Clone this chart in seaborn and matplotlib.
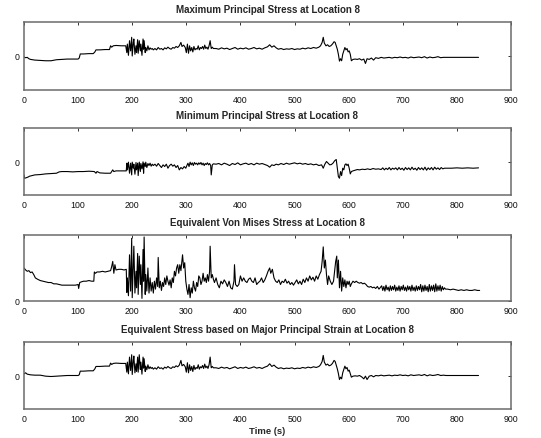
import numpy as np
import pandas as pd
import matplotlib
matplotlib.use("Agg")
import matplotlib.pyplot as plt
import seaborn as sns

# ---------------- data ----------------
titles = [
    "Maximum Principal Stress at Location 8",
    "Minimum Principal Stress at Location 8",
    "Equivalent Von Mises Stress at Location 8",
    "Equivalent Stress based on Major Principal Strain at Location 8",
]
x_ticks = [0, 100, 200, 300, 400, 500, 600, 700, 800, 900]
x_label = "Time (s)"

max_t = [
    0, 3, 6, 9, 12, 20, 30, 40, 50, 60,
    70, 80, 90, 100, 102, 104, 110, 120, 128, 131,
    133, 140, 150, 158, 160, 162, 165, 170, 180, 188,
    190, 191, 193, 195, 197, 199, 200, 202, 203, 205,
    207, 208, 210, 211, 213, 215, 216, 218, 220, 221,
    222, 224, 225, 227, 229, 231, 233, 235, 237, 239,
    242, 245, 248, 251, 254, 257, 260, 263, 266, 269,
    272, 275, 278, 281, 284, 287, 290, 292, 295, 298,
    300, 302, 304, 306, 308, 310, 312, 314, 316, 318,
    320, 322, 324, 326, 328, 330, 332, 334, 336, 338,
    340, 342, 344, 346, 348, 350, 355, 360, 365, 370,
    375, 380, 385, 390, 395, 400, 405, 410, 415, 420,
    425, 430, 435, 440, 445, 450, 454, 458, 462, 466,
    470, 475, 480, 485, 490, 495, 500, 505, 510, 515,
    520, 525, 530, 535, 540, 545, 548, 551, 553, 555,
    558, 561, 564, 567, 570, 573, 575, 577, 579, 581,
    583, 585, 587, 589, 591, 593, 595, 597, 599, 601,
    603, 605, 608, 612, 616, 620, 624, 628, 631, 634,
    638, 642, 646, 650, 655, 660, 665, 670, 675, 680,
    685, 690, 695, 700, 705, 710, 715, 720, 725, 730,
    735, 740, 745, 750, 755, 760, 765, 770, 775, 780,
    790, 800, 810, 820, 830, 840,
]
max_stress = [
    -0.03, -0.05, -0.04, -0.08, -0.10, -0.12, -0.13, -0.14, -0.14, -0.11,
    -0.10, -0.09, -0.09, -0.09, -0.06, 0.06, 0.06, 0.07, 0.07, 0.12,
    0.18, 0.18, 0.19, 0.19, 0.30, 0.26, 0.30, 0.31, 0.30, 0.30,
    0.10, 0.35, 0.02, 0.45, 0.15, 0.55, 0.00, 0.40, 0.50, 0.05,
    0.30, 0.10, 0.48, 0.08, 0.45, 0.15, 0.35, 0.02, 0.50, 0.20,
    0.45, 0.10, 0.25, 0.15, 0.30, 0.18, 0.24, 0.20, 0.22, 0.18,
    0.22, 0.18, 0.25, 0.20, 0.22, 0.18, 0.24, 0.21, 0.26, 0.22,
    0.20, 0.25, 0.23, 0.28, 0.25, 0.30, 0.40, 0.28, 0.32, 0.25,
    0.10, 0.35, 0.08, 0.30, 0.15, 0.25, 0.12, 0.28, 0.18, 0.22,
    0.20, 0.30, 0.18, 0.25, 0.22, 0.28, 0.20, 0.32, 0.22, 0.26,
    0.20, 0.30, 0.45, 0.22, 0.26, 0.22, 0.22, 0.20, 0.24, 0.21,
    0.23, 0.19, 0.22, 0.25, 0.20, 0.23, 0.21, 0.24, 0.20, 0.22,
    0.25, 0.21, 0.23, 0.20, 0.24, 0.27, 0.33, 0.26, 0.30, 0.24,
    0.20, 0.22, 0.19, 0.21, 0.20, 0.22, 0.19, 0.21, 0.20, 0.23,
    0.21, 0.24, 0.22, 0.25, 0.23, 0.26, 0.30, 0.40, 0.55, 0.38,
    0.30, 0.33, 0.28, 0.30, 0.35, 0.42, 0.40, 0.30, 0.20, 0.05,
    -0.15, -0.08, -0.14, 0.05, 0.15, 0.25, 0.18, 0.22, 0.12, 0.15,
    0.05, -0.14, -0.10, -0.09, -0.10, -0.08, -0.12, -0.09, -0.22, -0.08,
    -0.10, -0.06, -0.12, -0.05, -0.07, -0.04, -0.06, -0.05, -0.04, -0.06,
    -0.04, -0.05, -0.03, -0.05, -0.04, -0.06, -0.03, -0.05, -0.04, -0.03,
    -0.05, -0.02, -0.06, -0.03, -0.05, -0.04, -0.02, -0.05, -0.04, -0.04,
    -0.04, -0.04, -0.04, -0.04, -0.04, -0.04,
]

min_t = [
    0, 1, 3, 5, 8, 10, 15, 20, 30, 40,
    50, 60, 65, 70, 80, 90, 100, 110, 120, 130,
    133, 135, 140, 150, 160, 164, 166, 170, 180, 189,
    190, 191, 193, 195, 197, 199, 200, 202, 203, 205,
    207, 208, 210, 211, 213, 215, 216, 218, 220, 221,
    222, 224, 225, 227, 229, 231, 233, 235, 237, 239,
    242, 245, 248, 251, 254, 257, 260, 263, 266, 269,
    272, 275, 278, 281, 284, 287, 290, 293, 296, 299,
    301, 303, 305, 307, 309, 311, 313, 315, 317, 319,
    321, 323, 325, 327, 329, 331, 333, 335, 337, 339,
    341, 343, 345, 346, 348, 350, 355, 360, 365, 370,
    375, 380, 385, 390, 395, 400, 405, 410, 415, 420,
    425, 430, 435, 440, 445, 450, 454, 458, 462, 466,
    470, 475, 480, 485, 490, 495, 500, 505, 510, 515,
    520, 525, 530, 535, 540, 545, 550, 553, 556, 559,
    562, 565, 568, 571, 574, 577, 579, 581, 583, 585,
    587, 589, 591, 593, 595, 597, 599, 601, 603, 605,
    608, 612, 616, 620, 625, 630, 635, 640, 645, 650,
    655, 660, 663, 666, 669, 672, 675, 678, 681, 684,
    687, 690, 693, 696, 699, 702, 705, 708, 711, 714,
    717, 720, 723, 726, 729, 732, 735, 738, 741, 744,
    747, 750, 753, 756, 759, 762, 765, 768, 771, 774,
    777, 780, 790, 800, 810, 820, 830, 840,
]
min_stress = [
    -0.40, -0.50, -0.49, -0.48, -0.46, -0.44, -0.42, -0.40, -0.39, -0.37,
    -0.36, -0.35, -0.31, -0.30, -0.30, -0.31, -0.30, -0.30, -0.29, -0.30,
    -0.35, -0.30, -0.34, -0.35, -0.35, -0.25, -0.30, -0.28, -0.28, -0.28,
    -0.05, -0.25, -0.02, -0.35, -0.05, -0.40, -0.02, -0.20, -0.08, -0.38,
    -0.03, -0.25, -0.05, -0.42, -0.02, -0.30, -0.06, -0.22, -0.01, -0.35,
    -0.05, -0.15, -0.02, -0.18, -0.06, -0.12, -0.05, -0.14, -0.08, -0.12,
    -0.08, -0.14, -0.06, -0.12, -0.18, -0.10, -0.15, -0.08, -0.20, -0.12,
    -0.08, -0.14, -0.10, -0.18, -0.12, -0.25, -0.18, -0.22, -0.15, -0.20,
    -0.12, -0.05, -0.15, -0.02, -0.10, -0.04, -0.12, -0.03, -0.08, -0.05,
    -0.10, -0.04, -0.08, -0.03, -0.10, -0.05, -0.12, -0.06, -0.09, -0.04,
    -0.10, -0.06, -0.12, -0.40, -0.10, -0.07, -0.08, -0.06, -0.10, -0.05,
    -0.08, -0.12, -0.06, -0.09, -0.04, -0.10, -0.07, -0.05, -0.09, -0.06,
    -0.10, -0.05, -0.08, -0.06, -0.09, -0.12, -0.17, -0.10, -0.12, -0.08,
    -0.10, -0.06, -0.09, -0.05, -0.08, -0.06, -0.04, -0.07, -0.05, -0.08,
    -0.06, -0.09, -0.07, -0.10, -0.08, -0.12, -0.10, -0.20, -0.08, 0.00,
    -0.05, -0.10, -0.09, -0.05, 0.02, 0.06, -0.20, -0.45, -0.50, -0.30,
    -0.42, -0.20, -0.25, -0.10, -0.07, -0.12, -0.08, -0.20, -0.37, -0.30,
    -0.28, -0.26, -0.24, -0.25, -0.23, -0.24, -0.22, -0.24, -0.21, -0.23,
    -0.22, -0.24, -0.19, -0.25, -0.20, -0.24, -0.18, -0.25, -0.20, -0.23,
    -0.19, -0.25, -0.18, -0.24, -0.20, -0.26, -0.18, -0.24, -0.19, -0.25,
    -0.17, -0.24, -0.20, -0.26, -0.18, -0.24, -0.19, -0.25, -0.17, -0.26,
    -0.19, -0.24, -0.18, -0.25, -0.17, -0.23, -0.19, -0.24, -0.18, -0.22,
    -0.20, -0.20, -0.20, -0.19, -0.20, -0.19, -0.20, -0.19,
]

vm_t = [
    0, 3, 6, 9, 12, 15, 18, 21, 25, 30,
    35, 40, 45, 50, 55, 60, 65, 70, 75, 80,
    85, 90, 95, 100, 101, 103, 106, 110, 115, 120,
    125, 129, 130, 132, 135, 140, 145, 150, 155, 160,
    162, 164, 166, 168, 170, 175, 180, 185, 189, 190,
    191, 193, 195, 197, 199, 200, 202, 203, 205, 207,
    208, 210, 211, 213, 215, 216, 218, 220, 221, 222,
    224, 225, 227, 229, 231, 233, 235, 237, 239, 241,
    243, 245, 247, 248, 250, 252, 254, 256, 258, 260,
    262, 264, 266, 268, 270, 272, 274, 276, 278, 280,
    282, 284, 286, 288, 290, 292, 293, 295, 297, 299,
    301, 303, 305, 307, 309, 311, 313, 315, 317, 319,
    321, 323, 325, 327, 329, 331, 333, 335, 337, 339,
    341, 343, 344, 346, 348, 350, 352, 355, 358, 361,
    364, 367, 370, 373, 376, 379, 382, 385, 388, 389,
    391, 394, 397, 400, 403, 406, 409, 412, 415, 418,
    421, 424, 427, 430, 433, 436, 439, 442, 445, 448,
    451, 454, 456, 459, 462, 465, 468, 471, 474, 477,
    480, 483, 486, 489, 492, 495, 498, 501, 504, 507,
    510, 513, 516, 519, 522, 525, 528, 531, 534, 537,
    540, 543, 546, 549, 551, 553, 555, 557, 559, 561,
    563, 566, 569, 572, 574, 576, 578, 579, 581, 583,
    585, 587, 589, 591, 593, 595, 597, 599, 601, 603,
    605, 608, 611, 614, 617, 620, 623, 626, 629, 632,
    635, 638, 641, 644, 647, 650, 653, 656, 659, 661,
    663, 665, 667, 669, 671, 673, 675, 677, 679, 681,
    683, 685, 687, 689, 691, 693, 695, 697, 699, 701,
    703, 705, 707, 709, 711, 713, 715, 717, 719, 721,
    723, 725, 727, 729, 731, 733, 735, 737, 739, 741,
    743, 745, 747, 749, 751, 753, 755, 757, 759, 761,
    763, 765, 767, 769, 771, 773, 775, 777, 779, 783,
    788, 793, 798, 803, 808, 813, 818, 823, 828, 833,
    838, 842,
]
vm_stress = [
    0.50, 0.47, 0.45, 0.46, 0.43, 0.44, 0.40, 0.35, 0.33, 0.31,
    0.30, 0.29, 0.28, 0.28, 0.26, 0.26, 0.25, 0.24, 0.24, 0.24,
    0.24, 0.24, 0.24, 0.25, 0.19, 0.28, 0.29, 0.30, 0.30, 0.31,
    0.30, 0.30, 0.44, 0.42, 0.44, 0.44, 0.45, 0.44, 0.45, 0.46,
    0.52, 0.60, 0.42, 0.55, 0.47, 0.48, 0.48, 0.47, 0.48, 0.13,
    0.35, 0.08, 0.70, 0.15, 0.95, 0.05, 0.60, 0.83, 0.12, 0.45,
    0.20, 0.72, 0.10, 0.68, 0.25, 0.55, 0.04, 0.78, 0.30, 0.97,
    0.10, 0.40, 0.15, 0.50, 0.12, 0.35, 0.15, 0.28, 0.12, 0.30,
    0.18, 0.35, 0.22, 0.66, 0.20, 0.30, 0.16, 0.28, 0.22, 0.35,
    0.25, 0.38, 0.30, 0.24, 0.32, 0.20, 0.35, 0.28, 0.45, 0.38,
    0.50, 0.55, 0.42, 0.55, 0.46, 0.62, 0.70, 0.50, 0.58, 0.30,
    0.18, 0.10, 0.25, 0.05, 0.20, 0.12, 0.30, 0.20, 0.15, 0.28,
    0.22, 0.38, 0.35, 0.25, 0.30, 0.42, 0.30, 0.35, 0.28, 0.40,
    0.30, 0.45, 0.83, 0.35, 0.40, 0.33, 0.28, 0.35, 0.25, 0.20,
    0.30, 0.26, 0.32, 0.28, 0.22, 0.30, 0.20, 0.18, 0.30, 0.55,
    0.25, 0.22, 0.25, 0.38, 0.30, 0.35, 0.30, 0.28, 0.33, 0.35,
    0.30, 0.28, 0.35, 0.25, 0.28, 0.30, 0.35, 0.28, 0.32, 0.38,
    0.45, 0.50, 0.42, 0.48, 0.35, 0.30, 0.28, 0.32, 0.25, 0.30,
    0.28, 0.33, 0.27, 0.30, 0.25, 0.28, 0.24, 0.28, 0.32, 0.26,
    0.30, 0.25, 0.33, 0.28, 0.35, 0.30, 0.38, 0.32, 0.36, 0.30,
    0.38, 0.33, 0.40, 0.45, 0.60, 0.82, 0.50, 0.62, 0.40, 0.25,
    0.38, 0.30, 0.25, 0.30, 0.45, 0.60, 0.68, 0.35, 0.62, 0.20,
    0.45, 0.15, 0.35, 0.22, 0.32, 0.20, 0.30, 0.25, 0.30, 0.22,
    0.26, 0.30, 0.28, 0.30, 0.28, 0.27, 0.28, 0.26, 0.27, 0.25,
    0.22, 0.21, 0.22, 0.20, 0.21, 0.19, 0.22, 0.18, 0.21, 0.23,
    0.16, 0.22, 0.15, 0.24, 0.17, 0.21, 0.15, 0.23, 0.16, 0.22,
    0.17, 0.24, 0.15, 0.21, 0.16, 0.23, 0.15, 0.22, 0.17, 0.24,
    0.16, 0.21, 0.15, 0.23, 0.17, 0.22, 0.15, 0.24, 0.16, 0.21,
    0.15, 0.23, 0.16, 0.22, 0.17, 0.25, 0.14, 0.23, 0.15, 0.24,
    0.16, 0.22, 0.14, 0.25, 0.15, 0.23, 0.16, 0.24, 0.14, 0.26,
    0.15, 0.23, 0.16, 0.24, 0.15, 0.22, 0.17, 0.20, 0.18, 0.18,
    0.17, 0.18, 0.17, 0.16, 0.17, 0.16, 0.17, 0.16, 0.16, 0.17,
    0.16, 0.16,
]

strain_t = max_t
strain_stress = [
    0.05, 0.08, 0.04, 0.03, 0.02, 0.01, 0.01, -0.02, -0.03, -0.02,
    -0.01, 0.00, 0.00, 0.00, 0.02, 0.13, 0.13, 0.14, 0.14, 0.20,
    0.27, 0.27, 0.28, 0.28, 0.37, 0.33, 0.36, 0.37, 0.36, 0.36,
    0.10, 0.40, 0.05, 0.55, 0.15, 0.62, 0.03, 0.45, 0.58, 0.08,
    0.35, 0.12, 0.55, 0.10, 0.62, 0.18, 0.40, 0.04, 0.55, 0.22,
    0.50, 0.12, 0.28, 0.17, 0.32, 0.20, 0.26, 0.21, 0.24, 0.19,
    0.23, 0.19, 0.26, 0.21, 0.23, 0.19, 0.25, 0.22, 0.27, 0.23,
    0.21, 0.26, 0.24, 0.29, 0.26, 0.31, 0.45, 0.29, 0.33, 0.26,
    0.10, 0.38, 0.08, 0.32, 0.15, 0.27, 0.12, 0.30, 0.18, 0.24,
    0.21, 0.32, 0.19, 0.26, 0.23, 0.30, 0.21, 0.34, 0.23, 0.28,
    0.21, 0.32, 0.55, 0.23, 0.27, 0.23, 0.23, 0.21, 0.25, 0.22,
    0.24, 0.20, 0.23, 0.26, 0.21, 0.24, 0.22, 0.25, 0.21, 0.23,
    0.26, 0.22, 0.24, 0.21, 0.25, 0.28, 0.35, 0.27, 0.31, 0.25,
    0.21, 0.23, 0.20, 0.22, 0.21, 0.23, 0.20, 0.22, 0.21, 0.24,
    0.22, 0.25, 0.23, 0.26, 0.24, 0.27, 0.32, 0.42, 0.60, 0.40,
    0.31, 0.34, 0.29, 0.31, 0.36, 0.45, 0.42, 0.31, 0.20, 0.06,
    -0.12, -0.05, -0.10, 0.08, 0.18, 0.28, 0.20, 0.24, 0.13, 0.16,
    0.06, -0.05, -0.02, -0.01, -0.02, 0.00, -0.04, -0.10, -0.02, -0.12,
    -0.02, 0.00, -0.04, 0.00, -0.01, 0.01, -0.01, 0.00, 0.01, -0.01,
    0.01, 0.00, 0.02, 0.00, 0.01, -0.01, 0.02, 0.00, 0.01, 0.02,
    0.00, 0.03, -0.01, 0.02, 0.00, 0.01, 0.03, 0.00, 0.01, 0.00,
    0.00, 0.00, 0.00, 0.00, 0.00, 0.00,
]

series = [
    (max_t, max_stress, (-1.0, 1.0)),
    (min_t, min_stress, (-1.0, 1.0)),
    (vm_t, vm_stress, (0.0, 1.0)),
    (strain_t, strain_stress, (-1.0, 1.0)),
]

# ---------------- style ----------------
sns.set_style("white")
plt.rcParams["font.family"] = ["Liberation Sans", "DejaVu Sans"]

W, H = 541, 439
fig = plt.figure(figsize=(W / 100, H / 100), dpi=100)
# axes boxes in pixels: (top, bottom)
boxes = [(23, 91), (129, 196), (236, 302), (343, 410)]
left_px, right_px = 24, 511
frame_col = "#6b6b6b"

for (t, v, ylim), (top, bot), title in zip(series, boxes, titles):
    ax = fig.add_axes([left_px / W, 1 - bot / H, (right_px - left_px) / W, (bot - top) / H])
    n = min(len(t), len(v))
    df = pd.DataFrame({"t": t[:n], "v": v[:n]})
    sns.lineplot(data=df, x="t", y="v", ax=ax, color="black", linewidth=0.8,
                 estimator=None, sort=False)
    ax.set_xlim(0, 900)
    ax.set_ylim(*ylim)
    ax.set_xticks(x_ticks)
    ax.set_xticklabels([str(x) for x in x_ticks])
    ax.set_yticks([0])
    ax.set_yticklabels(["0"])
    ax.set_xlabel("")
    ax.set_ylabel("")
    ax.tick_params(direction="in", length=2.5, width=0.7, colors="#333333",
                   labelsize=6.3, top=True, right=True, pad=3.5,
                   labelcolor="#111111")
    for s in ax.spines.values():
        s.set_visible(True)
        s.set_color(frame_col)
        s.set_linewidth(1.1)
    ax.set_title(title, fontsize=7.0, fontweight="bold", pad=7)

ax.set_xlabel(x_label, fontsize=6.8, fontweight="bold", labelpad=2)

fig.savefig("out.png", dpi=100, facecolor="white")
